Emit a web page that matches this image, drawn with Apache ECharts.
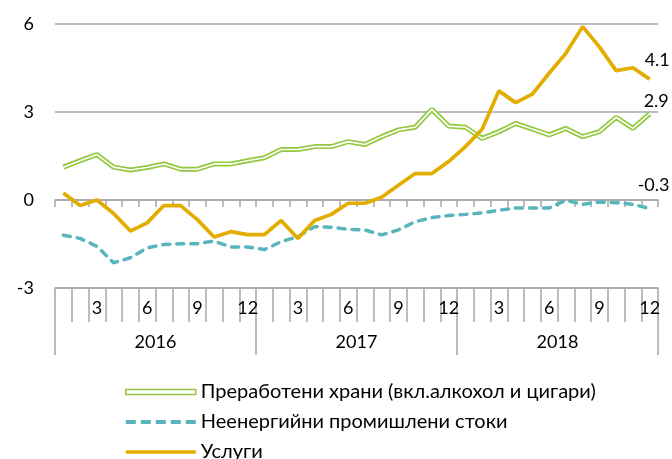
<!DOCTYPE html>
<html>
<head>
<meta charset="utf-8">
<script src="https://cdn.jsdelivr.net/npm/echarts@6/dist/echarts.min.js"></script>
<style>
  html, body { margin: 0; padding: 0; background: #fff; }
  #chart { width: 672px; height: 459px; }
</style>
</head>
<body>
<div id="chart"></div>
<script>
// данни по месеци, 2016-2018
var years = ['2016', '2017', '2018'];
var monthLabels = ['1', '2', '3', '4', '5', '6', '7', '8', '9', '10', '11', '12'];

var food = [1.12, 1.34, 1.55, 1.12, 1.02, 1.11, 1.23, 1.05, 1.05, 1.23, 1.23, 1.34,
            1.44, 1.72, 1.72, 1.82, 1.82, 1.99, 1.89, 2.16, 2.39, 2.48, 3.09, 2.52,
            2.48, 2.10, 2.33, 2.61, 2.42, 2.22, 2.44, 2.16, 2.33, 2.82, 2.44, 2.94];
var goods = [-1.20, -1.31, -1.58, -2.14, -1.97, -1.63, -1.52, -1.49, -1.49, -1.40, -1.60, -1.60,
             -1.69, -1.42, -1.25, -0.91, -0.93, -1.00, -1.02, -1.19, -1.02, -0.74, -0.60, -0.53,
             -0.49, -0.44, -0.35, -0.27, -0.27, -0.27, -0.01, -0.15, -0.07, -0.09, -0.15, -0.29];
var services = [0.24, -0.19, 0.00, -0.46, -1.06, -0.78, -0.19, -0.19, -0.67, -1.26, -1.08, -1.18,
                -1.18, -0.70, -1.31, -0.70, -0.49, -0.11, -0.11, 0.09, 0.50, 0.90, 0.90, 1.31,
                1.82, 2.41, 3.72, 3.32, 3.61, 4.32, 5.00, 5.91, 5.22, 4.41, 4.51, 4.12];
var endLabels = ['2.9', '-0.3', '4.1'];

var names = [
  'Преработени храни (вкл.алкохол и цигари)',
  'Неенергийни промишлени стоки',
  'Услуги'
];

var categories = [];
years.forEach(function (y) {
  monthLabels.forEach(function (m) { categories.push(m); });
});

var font = 'Lato, "Open Sans", sans-serif';
var grey = '#a6a6a6';
var green = '#92c83e', teal = '#5ab4bc', gold = '#e3ad00';

// етикет в края на линията
function endLabel(text, dx, dy) {
  return {
    show: true,
    formatter: text,
    distance: 8,
    offset: [dx, dy],
    color: '#000',
    fontFamily: font,
    fontSize: 18
  };
}

var myChart = echarts.init(document.getElementById('chart'));

var option = {
  animation: false,
  grid: { left: 55, right: 14, top: 24, bottom: 171 },
  legend: {
    orient: 'vertical',
    left: 125,
    top: 382,
    height: 100,
    padding: 0,
    itemWidth: 70,
    itemHeight: 14,
    itemGap: 10,
    textStyle: { fontFamily: font, fontSize: 20, color: '#000' },
    data: [
      {
        name: names[0],
        icon: 'path://M0,0 H140 V10 H0 Z',
        itemStyle: { color: '#fff', borderColor: green, borderWidth: 1.6 }
      },
      {
        name: names[1],
        icon: 'path://M0,0h10v4h-10z M15,0h10v4h-10z M30,0h10v4h-10z M45,0h10v4h-10z M60,0h10v4h-10z',
        itemStyle: { color: teal, borderWidth: 0 }
      },
      {
        name: names[2],
        icon: 'path://M0,0h70v3.5h-70z',
        itemStyle: { color: gold, borderWidth: 0 }
      }
    ]
  },
  xAxis: [
    {
      // ос при нулата
      type: 'category',
      data: categories,
      axisLine: { onZero: true, lineStyle: { color: grey, width: 1.5 } },
      axisTick: { show: true, interval: 0, length: 7, lineStyle: { color: grey, width: 1.5 } },
      axisLabel: { show: false },
      splitLine: { show: false }
    },
    {
      // месеци
      type: 'category',
      data: categories,
      position: 'bottom',
      axisLine: { onZero: false, lineStyle: { color: grey, width: 1.5 } },
      axisTick: { show: true, interval: 0, length: 34, lineStyle: { color: grey, width: 1.5 } },
      axisLabel: {
        interval: 0,
        margin: 11,
        color: '#000',
        fontFamily: font,
        fontSize: 18,
        formatter: function (v, idx) { return (idx + 1) % 3 === 0 ? v : ''; }
      }
    },
    {
      // години
      type: 'category',
      data: years,
      position: 'bottom',
      axisLine: { show: false, onZero: false },
      axisTick: { show: true, interval: 0, length: 67, lineStyle: { color: grey, width: 1.5 } },
      axisLabel: { margin: 45, color: '#000', fontFamily: font, fontSize: 18 }
    }
  ],
  yAxis: {
    type: 'value',
    min: -3,
    max: 6,
    interval: 3,
    axisLine: { show: false },
    axisTick: { show: false },
    axisLabel: { margin: 21, color: '#000', fontFamily: font, fontSize: 18 },
    splitLine: { lineStyle: { color: grey, width: 1.5 } }
  },
  series: [
    {
      name: names[0],
      type: 'line',
      data: food,
      symbol: 'none',
      color: green,
      lineStyle: { color: green, width: 5 },
      endLabel: endLabel(endLabels[0], -14, -13),
      z: 2
    },
    {
      name: 'food-core',
      type: 'line',
      data: food,
      symbol: 'none',
      silent: true,
      lineStyle: { color: '#fff', width: 1.6 },
      z: 3
    },
    {
      name: names[1],
      type: 'line',
      data: goods,
      symbol: 'none',
      color: teal,
      lineStyle: { color: teal, width: 3.5, type: [7, 7], cap: 'round' },
      endLabel: endLabel(endLabels[1], -20, -23),
      z: 4
    },
    {
      name: names[2],
      type: 'line',
      data: services,
      symbol: 'none',
      color: gold,
      lineStyle: { color: gold, width: 3.7 },
      endLabel: endLabel(endLabels[2], -13, -19),
      z: 5
    }
  ]
};

option && myChart.setOption(option);
</script>
</body>
</html>
